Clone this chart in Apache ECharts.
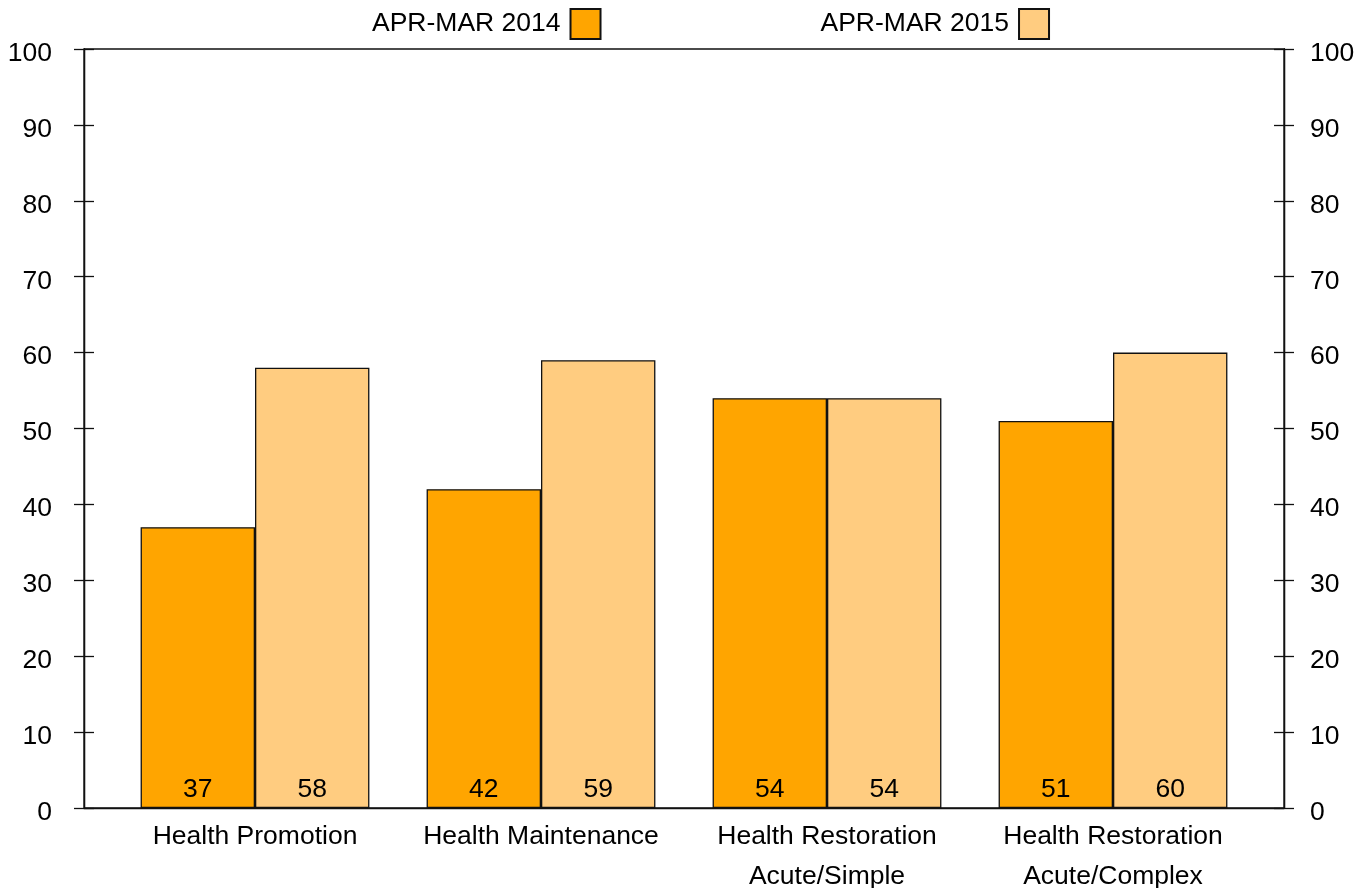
<!DOCTYPE html>
<html>
<head>
  <meta charset="utf-8">
  <script src="https://cdn.jsdelivr.net/npm/echarts@6/dist/echarts.min.js"></script>
  <style>
    body {
      margin: 0;
      padding: 0;
      background-color: white;
    }
    #main {
      width: 1369px;
      height: 888px;
    }
  </style>
  <title>Health categories</title>
</head>
<body>
<div id="main"></div>
<script>
  var categories = ['Health Promotion', 'Health Maintenance', 'Health Restoration\nAcute/Simple', 'Health Restoration\nAcute/Complex'];
  var values2014 = [37, 42, 54, 51];
  var values2015 = [58, 59, 54, 60];
  var yTicks = [0, 10, 20, 30, 40, 50, 60, 70, 80, 90, 100];

  var font = 'Liberation Sans, Arial, sans-serif';
  var lineColor = '#111';

  var myChart = echarts.init(document.getElementById('main'));

  // left/right frame axes: one draws the outer tick half + labels, the other the inner half
  function frameAxis(pos, inside, showLabel, margin) {
    return {
      type: 'value',
      gridIndex: 0,
      position: pos,
      offset: 0,
      min: yTicks[0],
      max: yTicks[yTicks.length - 1],
      interval: 10,
      axisLine: { show: true, lineStyle: { color: lineColor, width: 1.3 } },
      axisTick: { show: true, inside: inside, length: 10, lineStyle: { color: lineColor, width: 1.3 } },
      axisLabel: {
        show: showLabel, margin: margin, color: '#000', fontSize: 26.5, fontFamily: font,
        formatter: '{v|{value}}',
        rich: { v: { fontSize: 26.5, fontFamily: font, color: '#000', padding: [9, 0, 0, 0] } }
      },
      splitLine: { show: false }
    };
  }

  myChart.setOption({
    animation: false,
    legend: {
      left: 372,
      top: 8,
      padding: 0,
      align: 'right',
      itemWidth: 30,
      itemHeight: 30,
      itemGap: 219,
      icon: 'rect',
      textStyle: { color: '#000', fontSize: 26.5, fontFamily: font, padding: [2, 5, 0, 0] },
      data: ['APR-MAR 2014', 'APR-MAR 2015']
    },
    grid: [
      { left: 84, right: 85, top: 49, bottom: 80, outerBoundsMode: 'none', show: true, borderColor: lineColor, borderWidth: 1.3 },
      { left: 112, right: 113, top: 49, bottom: 80, outerBoundsMode: 'none' }
    ],
    xAxis: [
      {
        type: 'value', gridIndex: 0, min: 0, max: 1,
        axisLine: { show: true, lineStyle: { color: lineColor, width: 1.3 } },
        axisTick: { show: false }, axisLabel: { show: false }, splitLine: { show: false }
      },
      {
        type: 'category', gridIndex: 1, data: categories,
        axisLine: { show: false }, axisTick: { show: false },
        axisLabel: { interval: 0, margin: 9, color: '#000', fontSize: 26.5, lineHeight: 40, fontFamily: font }
      }
    ],
    yAxis: [
      frameAxis('left', false, true, 32),
      frameAxis('left', true, false, 8),
      frameAxis('right', false, true, 26),
      frameAxis('right', true, false, 8),
      { type: 'value', gridIndex: 1, min: 0, max: 100, show: false }
    ],
    series: [
      {
        name: 'APR-MAR 2014',
        type: 'bar',
        xAxisIndex: 1,
        yAxisIndex: 4,
        barGap: '0%',
        barCategoryGap: '20%',
        itemStyle: { color: '#FFA500', borderColor: lineColor, borderWidth: 1.3 },
        label: { show: true, position: 'insideBottom', distance: 5, color: '#000', fontSize: 26.5, fontFamily: font },
        data: values2014
      },
      {
        name: 'APR-MAR 2015',
        type: 'bar',
        xAxisIndex: 1,
        yAxisIndex: 4,
        barGap: '0%',
        barCategoryGap: '20%',
        itemStyle: { color: '#FFCC80', borderColor: lineColor, borderWidth: 1.3 },
        label: { show: true, position: 'insideBottom', distance: 5, color: '#000', fontSize: 26.5, fontFamily: font },
        data: values2015
      }
    ]
  });
</script>
</body>
</html>
